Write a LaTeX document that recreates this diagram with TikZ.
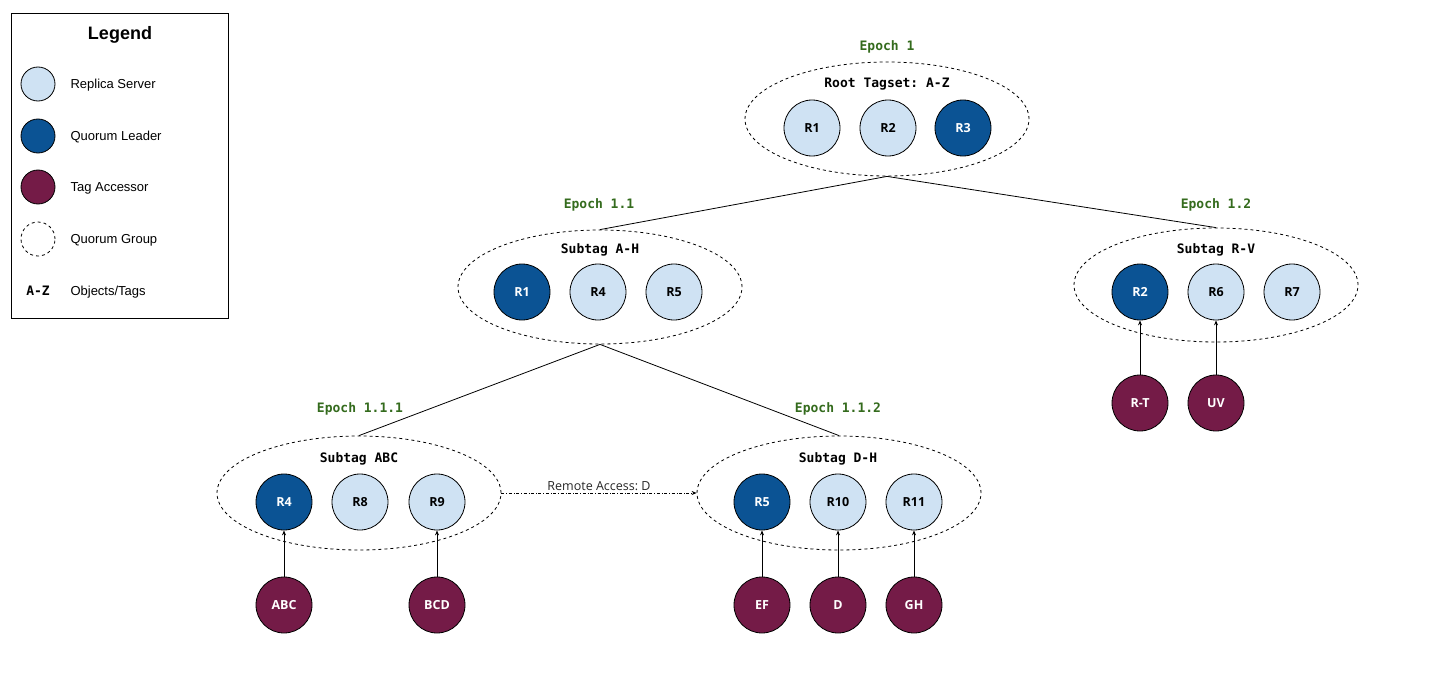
\documentclass[tikz,border=0pt]{standalone}
\usepackage{fontspec}
\setmainfont{Liberation Sans}
\newfontfamily\monob{DejaVu Sans Mono}
\newfontfamily\circfont{Open Sans}
\usetikzlibrary{arrows.meta,shapes.geometric}
\definecolor{lightblue}{HTML}{CFE2F3}
\definecolor{darkblue}{HTML}{0B5394}
\definecolor{burg}{HTML}{741B47}
\definecolor{epochgreen}{HTML}{346B1D}
\frenchspacing
\tikzset{
  srv/.style={circle,draw=black,line width=0.8pt,minimum size=56pt,inner sep=0pt,
    font=\circfont\bfseries\fontsize{12.5}{14}\selectfont},
  replica/.style={srv,fill=lightblue,text=black},
  leader/.style={srv,fill=darkblue,text=white},
  accessor/.style={srv,fill=burg,text=white},
  group/.style={ellipse,draw=black,dashed,line width=0.8pt,minimum width=284pt,minimum height=114pt,inner sep=0pt},
  title/.style={font=\monob\bfseries\fontsize{13}{15}\selectfont},
  epoch/.style={font=\monob\bfseries\fontsize{13}{15}\selectfont,text=epochgreen},
  legtext/.style={anchor=west,font=\fontsize{13}{15}\selectfont},
  legcirc/.style={circle,draw=black,line width=0.8pt,minimum size=34pt,inner sep=0pt},
  acc/.style={-{Stealth[length=5pt,width=4pt]},line width=0.8pt},
  tree/.style={line width=0.8pt}
}
\begin{document}
\begin{tikzpicture}[x=1pt,y=-1pt]
\useasboundingbox (0,0) rectangle (1436,677);
% Legend
\node[draw=black,line width=0.8pt,minimum width=217pt,minimum height=305pt,inner sep=0pt] (legend) at (119.5,165.5) {};
\node[font=\bfseries\fontsize{18}{20}\selectfont] (legtitle) at (120,35) {Legend};
\node[legcirc,fill=lightblue] (lc1) at (38,84) {};
\node[legtext] (lt1) at (67,85) {Replica Server};
\node[legcirc,fill=darkblue] (lc2) at (38,136) {};
\node[legtext] (lt2) at (67,137) {Quorum Leader};
\node[legcirc,fill=burg] (lc3) at (38,187) {};
\node[legtext] (lt3) at (67,188) {Tag Accessor};
\node[legcirc,dashed] (lc4) at (38,239) {};
\node[legtext] (lt4) at (67,240) {Quorum Group};
\node[title] (lc5) at (38,291) {A-Z};
\node[legtext] (lt5) at (67,292) {Objects/Tags};

% Root
\node[group] (root) at (887,119) {};
\node[epoch] (e1) at (887,47) {Epoch 1};
\node[title] (rootlbl) at (887,84) {Root Tagset: A-Z};
\node[replica] (r1a) at (812,128) {R1};
\node[replica] (r2a) at (888,128) {R2};
\node[leader] (r3a) at (963,128) {R3};

% A-H
\node[group] (ah) at (600,287) {};
\node[epoch] (e11) at (599,205) {Epoch 1.1};
\node[title] (ahlbl) at (600,250) {Subtag A-H};
\node[leader] (r1b) at (522,292) {R1};
\node[replica] (r4b) at (598,292) {R4};
\node[replica] (r5b) at (674,292) {R5};

% R-V
\node[group] (rv) at (1216,285) {};
\node[epoch] (e12) at (1216,205) {Epoch 1.2};
\node[title] (rvlbl) at (1216,250) {Subtag R-V};
\node[leader] (r2c) at (1140,292) {R2};
\node[replica] (r6c) at (1216,292) {R6};
\node[replica] (r7c) at (1292,292) {R7};
\node[accessor] (rt) at (1140,403) {R-T};
\node[accessor] (uv) at (1216,403) {UV};

% ABC
\node[group] (abc) at (359,493) {};
\node[epoch] (e111) at (360,409) {Epoch 1.1.1};
\node[title] (abclbl) at (359,459) {Subtag ABC};
\node[leader] (r4d) at (284,502) {R4};
\node[replica] (r8d) at (360,502) {R8};
\node[replica] (r9d) at (437,502) {R9};
\node[accessor] (aabc) at (284,605) {ABC};
\node[accessor] (abcd) at (437,605) {BCD};

% D-H
\node[group] (dh) at (839,493) {};
\node[epoch] (e112) at (838,409) {Epoch 1.1.2};
\node[title] (dhlbl) at (838,459) {Subtag D-H};
\node[leader] (r5e) at (762,502) {R5};
\node[replica] (r10e) at (838,502) {R10};
\node[replica] (r11e) at (914,502) {R11};
\node[accessor] (aef) at (762,605) {EF};
\node[accessor] (ad) at (838,605) {D};
\node[accessor] (agh) at (914,605) {GH};

% tree lines
\draw[tree] (root.south) -- (ah.north);
\draw[tree] (root.south) -- (rv.north);
\draw[tree] (ah.south) -- (abc.north);
\draw[tree] (ah.south) -- (dh.north);

% remote access
\draw[dash dot,line width=0.8pt,-{Stealth[length=5pt,width=4pt]}] (abc.east) -- node[above=-1pt,font=\circfont\fontsize{12.5}{14}\selectfont,text=black!85] (ralbl) {Remote Access: D} (dh.west);

% accessor arrows
\draw[acc] (aabc) -- (r4d);
\draw[acc] (abcd) -- (r9d);
\draw[acc] (aef) -- (r5e);
\draw[acc] (ad) -- (r10e);
\draw[acc] (agh) -- (r11e);
\draw[acc] (rt) -- (r2c);
\draw[acc] (uv) -- (r6c);
\end{tikzpicture}
\end{document}
